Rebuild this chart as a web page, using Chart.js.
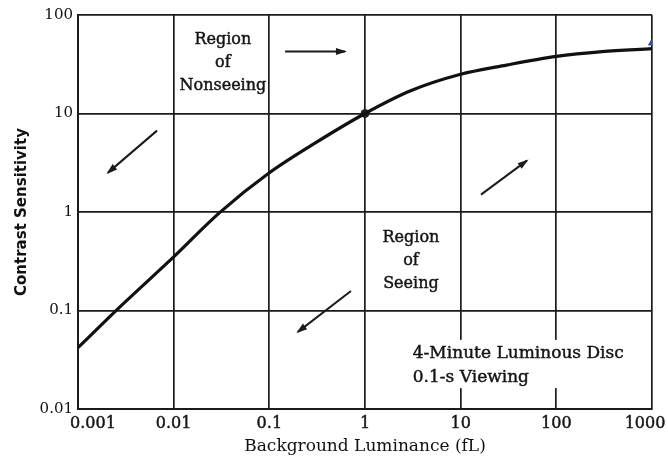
<!DOCTYPE html>
<html>
<head>
<meta charset="utf-8">
<script src="https://cdn.jsdelivr.net/npm/chart.js@4.4.1/dist/chart.umd.min.js"></script>
<style>
html, body { margin: 0; padding: 0; background: #fff; }
canvas { display: block; }
</style>
</head>
<body>
<canvas id="chart" width="668" height="463"></canvas>
<script>
// Threshold contrast sensitivity vs. background luminance
const luminance   = [0.001, 0.003, 0.01, 0.03, 0.1, 0.3, 1, 3, 10, 30, 100, 300, 1000];
const sensitivity = [0.042, 0.118, 0.35, 0.98, 2.5, 5.0, 10, 17, 25, 31, 38, 42.5, 45.5];

const xTicks = [0.001, 0.01, 0.1, 1, 10, 100, 1000];
const xTickLabels = ['0.001', '0.01', '0.1', '1', '10', '100', '1000'];
const yTicks = [0.01, 0.1, 1, 10, 100];
const yTickLabels = ['0.01', '0.1', '1', '10', '100'];

// highlighted points on the curve
const markX = [1];
const markY = [10];
const endMarkX = [1000];
const endMarkY = [52];

// direction arrows (tail -> head) in data units
const arrowFromX = [0.146, 0.0067, 16.3, 0.713];
const arrowFromY = [42.6, 6.7, 1.5, 0.158];
const arrowToX   = [0.617, 0.00206, 49.2, 0.199];
const arrowToY   = [42.6, 2.51, 3.32, 0.0607];

// text notes: anchor of first line in data units
const noteLines = [['Region', 'of', 'Nonseeing'], ['Region', 'of', 'Seeing'], ['4-Minute Luminous Disc', '0.1-s Viewing']];
const noteX = [0.0327, 3.02, 3.16];
const noteY = [56.4, 0.548, 0.0363];
const noteAlign = ['center', 'center', 'left'];
const noteSize = [16, 16, 17];
const noteBoxed = [false, false, true];

const INK = '#1b1b1b';
const SERIF = '"DejaVu Serif", "Liberation Serif", serif';

const curveData = luminance.map((x, i) => ({ x, y: sensitivity[i] }));
const markData = markX.map((x, i) => ({ x, y: markY[i] }));
const endMarkData = endMarkX.map((x, i) => ({ x, y: endMarkY[i] }));
const arrowSets = arrowFromX.map((x, i) => ({
  data: [{ x, y: arrowFromY[i] }, { x: arrowToX[i], y: arrowToY[i] }],
  borderColor: INK, borderWidth: 2, pointRadius: 0, showLine: true, tension: 0
}));

const LINE_H = 23.3;

// slightly heavier text, like the printed labels
function inkText(ctx, t, x, y) {
  ctx.fillText(t, x, y);
  ctx.strokeText(t, x, y);
}

const notesPlugin = {
  id: 'notes',
  beforeDatasetsDraw(chart) {
    const { ctx, scales: { x, y } } = chart;
    ctx.save();
    noteLines.forEach((lines, i) => {
      if (!noteBoxed[i]) return;
      ctx.font = noteSize[i] + 'px ' + SERIF;
      const px = x.getPixelForValue(noteX[i]);
      const py = y.getPixelForValue(noteY[i]);
      const w = Math.max(...lines.map(t => ctx.measureText(t).width));
      ctx.fillStyle = '#fff';
      ctx.fillRect(px - 8, py - 14, w + 16, LINE_H * (lines.length - 1) + 25);
    });
    ctx.restore();
  },
  afterDatasetsDraw(chart) {
    const { ctx, scales: { x, y }, chartArea } = chart;
    ctx.save();
    // arrowheads
    ctx.fillStyle = INK;
    arrowFromX.forEach((_, i) => {
      const x0 = x.getPixelForValue(arrowFromX[i]), y0 = y.getPixelForValue(arrowFromY[i]);
      const x1 = x.getPixelForValue(arrowToX[i]), y1 = y.getPixelForValue(arrowToY[i]);
      const a = Math.atan2(y1 - y0, x1 - x0);
      const len = 9, half = 3.5;
      ctx.beginPath();
      ctx.moveTo(x1 + Math.cos(a) * 2, y1 + Math.sin(a) * 2);
      ctx.lineTo(x1 - Math.cos(a) * len - Math.sin(a) * half, y1 - Math.sin(a) * len + Math.cos(a) * half);
      ctx.lineTo(x1 - Math.cos(a) * len + Math.sin(a) * half, y1 - Math.sin(a) * len - Math.cos(a) * half);
      ctx.closePath();
      ctx.fill();
    });
    // notes
    ctx.fillStyle = '#151515';
    ctx.strokeStyle = '#151515';
    ctx.lineWidth = 0.45;
    ctx.textBaseline = 'middle';
    noteLines.forEach((lines, i) => {
      ctx.font = noteSize[i] + 'px ' + SERIF;
      const px = x.getPixelForValue(noteX[i]);
      const py = y.getPixelForValue(noteY[i]);
      ctx.textAlign = noteAlign[i];
      lines.forEach((t, k) => inkText(ctx, t, px, py + k * LINE_H));
    });
    // x tick labels
    ctx.font = '16px ' + SERIF;
    ctx.textAlign = 'center';
    xTicks.forEach((v, i) => {
      let px = x.getPixelForValue(v);
      if (i === 0) px += 15;
      if (i === xTicks.length - 1) px -= 7;
      inkText(ctx, xTickLabels[i], px, chartArea.bottom + 15);
    });
    ctx.restore();
  }
};

new Chart(document.getElementById('chart'), {
  type: 'scatter',
  data: {
    datasets: [
      { data: curveData, borderColor: '#111', borderWidth: 3.2, pointRadius: 0, showLine: true, cubicInterpolationMode: 'monotone' },
      { data: markData, backgroundColor: '#222', borderColor: '#222', pointRadius: 4, showLine: false },
      { data: endMarkData, backgroundColor: '#2f4fa8', borderColor: '#2f4fa8', pointRadius: 4, pointStyle: 'triangle', showLine: false },
      ...arrowSets
    ]
  },
  options: {
    responsive: false,
    animation: false,
    layout: { padding: { top: 15, right: 16, left: 0, bottom: 0 } },
    plugins: { legend: { display: false }, tooltip: { enabled: false } },
    scales: {
      x: {
        type: 'logarithmic',
        min: 0.001, max: 1000,
        afterBuildTicks: s => { s.ticks = xTicks.map(v => ({ value: v })); },
        afterFit: s => { s.height = 54; },
        ticks: { display: false },
        grid: { color: INK, lineWidth: 1.7, drawTicks: false },
        border: { display: true, color: INK, width: 2 },
        title: {
          display: true, text: 'Background Luminance (fL)', color: '#111',
          font: { family: SERIF, size: 17 }, padding: { top: 0, bottom: 6 }
        }
      },
      y: {
        type: 'logarithmic',
        min: 0.01, max: 100,
        afterBuildTicks: s => { s.ticks = yTicks.map(v => ({ value: v })); },
        afterFit: s => { s.width = 78; },
        ticks: {
          color: '#111', padding: 5, font: { family: SERIF, size: 15 },
          callback: (v, i) => yTickLabels[i]
        },
        grid: { color: INK, lineWidth: 1.7, drawTicks: false },
        border: { display: true, color: INK, width: 2 },
        title: {
          display: true, text: 'Contrast Sensitivity', color: '#111',
          font: { family: '"DejaVu Sans", sans-serif', size: 15, weight: 'bold' },
          padding: { top: 13, bottom: 0 }
        }
      }
    }
  },
  plugins: [notesPlugin]
});
</script>
</body>
</html>
